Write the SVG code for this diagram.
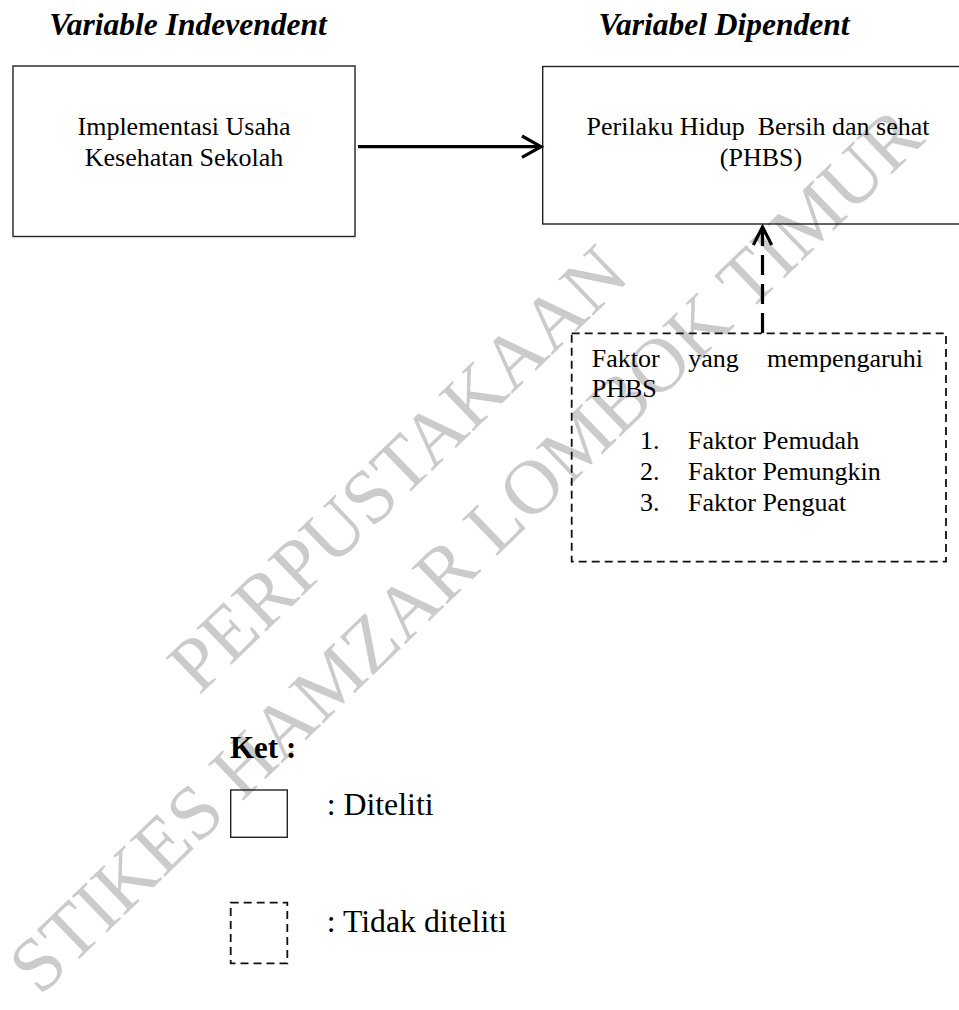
<svg xmlns="http://www.w3.org/2000/svg" width="959" height="1010" viewBox="0 0 959 1010">
<defs>
<style>
.t{font-family:"Liberation Serif","Times New Roman",serif;fill:#000}
.hd{font-size:31.5px;font-weight:bold;font-style:italic}
.b{font-size:26px}
.lg{font-size:31.8px}
.box{fill:none;stroke:#222;stroke-width:1.4}
.dbox{fill:none;stroke:#111;stroke-width:1.8;stroke-dasharray:8 5}
.wm{font-family:"Liberation Serif","Times New Roman",serif;font-size:77px;fill:#cbcbcb}
.conn{fill:none;stroke:#000;stroke-width:3.2}
</style>
</defs>
<rect width="959" height="1010" fill="#fff"/>

<g id="watermark">
<text class="wm" transform="translate(199,696) rotate(-44)">PERPUSTAKAAN</text>
<text class="wm" transform="translate(40,997) rotate(-44)">STIKES HAMZAR LOMBOK TIMUR</text>
</g>

<text class="t hd" x="188" y="35" text-anchor="middle">Variable Indevendent</text>
<text class="t hd" x="724" y="35" text-anchor="middle">Variabel Dipendent</text>

<g id="node-usaha">
<rect class="box" x="13" y="66" width="342" height="170.5"/>
<text class="t b" x="184" y="135" text-anchor="middle">Implementasi Usaha</text>
<text class="t b" x="184" y="166" text-anchor="middle">Kesehatan Sekolah</text>
</g>

<g id="node-phbs">
<rect class="box" x="542.7" y="66.5" width="440" height="157.5"/>
<text class="t b" x="758" y="135" text-anchor="middle" xml:space="preserve">Perilaku Hidup  Bersih dan sehat</text>
<text class="t b" x="761" y="166" text-anchor="middle">(PHBS)</text>
</g>

<g id="node-faktor">
<rect class="dbox" x="571.7" y="333.3" width="374.3" height="228.4"/>
<text class="t b" x="591.7" y="367">Faktor</text>
<text class="t b" x="688.3" y="367">yang</text>
<text class="t b" x="923" y="367" text-anchor="end">mempengaruhi</text>
<text class="t b" x="591.7" y="397">PHBS</text>
<text class="t b" x="640" y="449">1.</text>
<text class="t b" x="688" y="449">Faktor Pemudah</text>
<text class="t b" x="640" y="480">2.</text>
<text class="t b" x="688" y="480">Faktor Pemungkin</text>
<text class="t b" x="640" y="511">3.</text>
<text class="t b" x="688" y="511">Faktor Penguat</text>
</g>

<g id="connectors">
<line class="conn" x1="358" y1="146.7" x2="540" y2="146.7"/>
<polyline class="conn" points="522,136 541,146.7 522,157.4"/>
<line class="conn" x1="762.5" y1="333" x2="762.5" y2="230" stroke-dasharray="20 9"/>
<polyline class="conn" points="753.3,245 762.5,227 771.7,245"/>
</g>

<g id="legend">
<text class="t" x="230" y="758" font-size="31px" font-weight="bold">Ket :</text>
<rect class="box" x="230.7" y="790" width="56.6" height="47.3"/>
<text class="t lg" x="326.7" y="815">: Diteliti</text>
<rect class="dbox" x="230.7" y="902.7" width="56.6" height="60.6"/>
<text class="t lg" x="326.7" y="932">: Tidak diteliti</text>
</g>
</svg>
